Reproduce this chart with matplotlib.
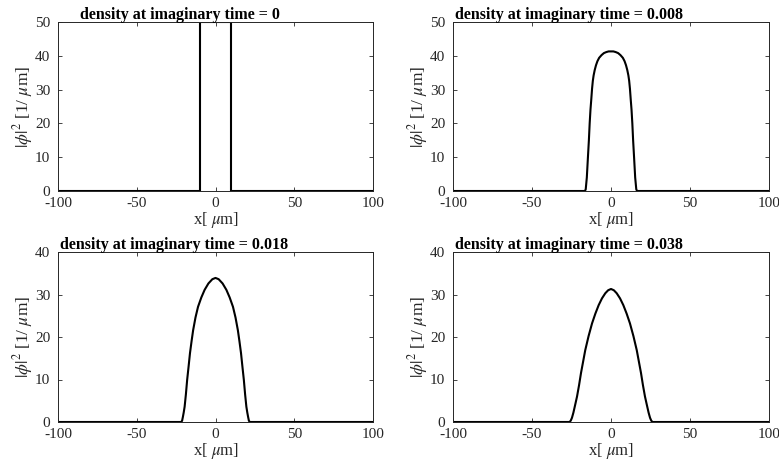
import numpy as np
import matplotlib
matplotlib.use("Agg")
import matplotlib.pyplot as plt

plt.rcParams['font.family'] = ['Liberation Serif', 'DejaVu Serif']
plt.rcParams['mathtext.fontset'] = 'stix'
plt.rcParams['axes.unicode_minus'] = False

# imaginary times of the four snapshots
times = ['0', '0.008', '0.018', '0.038']

# density profiles, x in um
x_t0 = [-100, -10, -10, 10, 10, 100]
y_t0 = [0, 0, 50, 50, 0, 0]

x_t1 = [-100, -16.5, -16, -15.3, -14.6, -14, -13.5, -13, -12.5, -12, -11.5, -11, -10.3, -9.5,
        -8.6, -7.5, -6, -4.5, -3, -1.5, 0, 1.5, 3, 4.5, 6, 7.5, 8.6, 9.5, 10.3, 11, 11.5, 12,
        12.5, 13, 13.5, 14, 14.6, 15.3, 16, 16.5, 100]
y_t1 = [0, 0, 0.5, 4, 10, 15, 20, 24, 27, 30.2, 32.6, 34.2, 35.8, 37.2,
        38.4, 39.4, 40.2, 40.8, 41.1, 41.3, 41.3, 41.3, 41.1, 40.8, 40.2, 39.4, 38.4, 37.2, 35.8, 34.2, 32.6, 30.2,
        27, 24, 20, 15, 10, 4, 0.5, 0, 0]

x_t2 = [-100, -21.8, -21.2, -20.7, -20.2, -19.6, -18.8, -18, -17.1, -16.2, -15.2, -14.2, -12.7,
        -11.1, -9, -6.9, -4.5, -2, 0, 2, 4.5, 6.9, 9, 11.1, 12.7, 14.2, 15.2, 16.2, 17.1,
        18, 18.8, 19.6, 20.2, 20.7, 21.2, 21.8, 100]
y_t2 = [0, 0, 0.3, 1.2, 2.2, 3.6, 6.5, 9.9, 13, 16.2, 19, 21.6, 24.6,
        27.1, 29.3, 31.1, 32.6, 33.6, 33.9, 33.6, 32.6, 31.1, 29.3, 27.1, 24.6, 21.6, 19, 16.2, 13,
        9.9, 6.5, 3.6, 2.2, 1.2, 0.3, 0, 0]

x_t3 = [-100, -26.3, -25.5, -24.7, -23.8, -22.7, -21.5, -20.2, -19, -17.6, -16.3, -14.2, -12,
        -9.9, -7.8, -5.7, -3.6, -1.8, 0, 1.8, 3.6, 5.7, 7.8, 9.9, 12, 14.2, 16.3, 17.6,
        19, 20.2, 21.5, 22.7, 23.8, 24.7, 25.5, 26.3, 100]
y_t3 = [0, 0, 0.3, 1.0, 2.2, 4.0, 6.0, 8.7, 11.5, 14.3, 16.9, 20.2, 23.2,
        25.5, 27.5, 29.1, 30.3, 31.0, 31.3, 31.0, 30.3, 29.1, 27.5, 25.5, 23.2, 20.2, 16.9, 14.3,
        11.5, 8.7, 6.0, 4.0, 2.2, 1.0, 0.3, 0, 0]

profiles = [(x_t0, y_t0), (x_t1, y_t1), (x_t2, y_t2), (x_t3, y_t3)]
ymax = [50, 50, 40, 40]

fig = plt.figure(figsize=(7.79, 4.70), dpi=100)
W, H = 779.0, 470.0
boxes = [(58, 22, 315, 169), (453, 22, 316, 169), (58, 252, 315, 170), (453, 252, 316, 170)]
title_x = [0.387, 0.367, 0.367, 0.367]
gray = '#262626'

for i, (xs, ys) in enumerate(profiles):
    l, t, w, h = boxes[i]
    ax = fig.add_axes([l / W, 1 - (t + h) / H, w / W, h / H])
    ax.plot(xs, ys, color='black', lw=1.5)
    ax.set_xlim(-100, 100)
    ax.set_ylim(0, ymax[i])
    ax.set_xticks([-100, -50, 0, 50, 100])
    ax.set_yticks(np.arange(0, ymax[i] + 1, 10))
    ax.tick_params(direction='in', top=True, right=True, length=3, width=0.6,
                   labelsize=11, colors=gray)
    ax.tick_params(axis='x', pad=4.5)
    ax.tick_params(axis='y', pad=5.5)
    for s in ax.spines.values():
        s.set_linewidth(0.7)
        s.set_color(gray)
    ax.set_xlabel(r'x[ $\mu$m]', fontsize=12, color=gray, labelpad=0)
    ax.set_ylabel(r'$|\phi|^2$ [1/ $\mu$m]', fontsize=12.5, color=gray, labelpad=0)
    ax.set_title('density at imaginary time = ' + times[i], fontsize=11.5,
                 fontweight='bold', x=title_x[i], pad=2)

fig.savefig('out.png', dpi=100)
